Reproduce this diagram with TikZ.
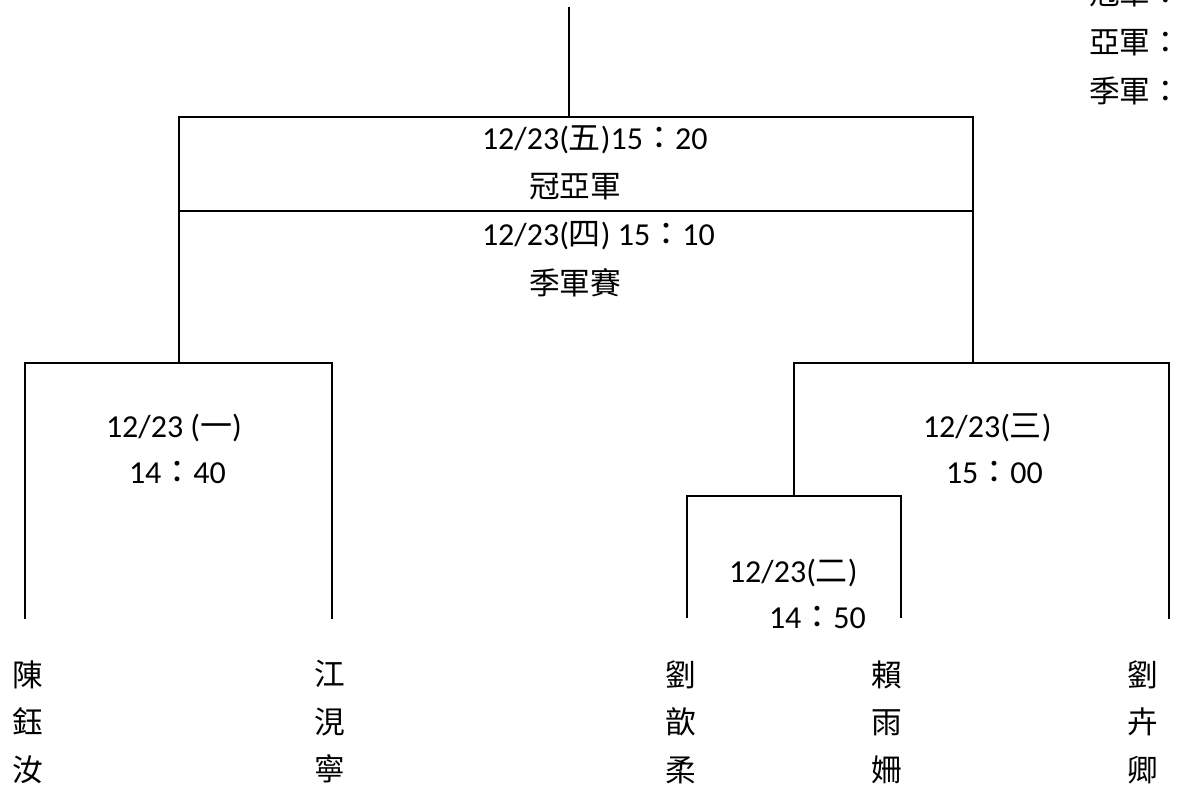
\documentclass[tikz,border=0pt]{standalone}
\usepackage{fontspec}
\setmainfont{Carlito}
\newfontfamily\zhfont{Noto Sans CJK TC}
\newcommand\zh[1]{{\zhfont #1}}
\begin{document}
\begin{tikzpicture}[x=0.75pt,y=-0.75pt,line width=1.5pt,
  every node/.style={inner sep=0pt,font=\fontsize{24}{28}\selectfont},
  lbl/.style={anchor=base west},
  namecol/.style={align=center,font=\zhfont\fontsize{23}{35.6}\selectfont},
  bracket/.style={draw=black,line width=1.5pt}]
\useasboundingbox (0,0) rectangle (1191,795);
% coordinates
\coordinate (top) at (569,7);
\coordinate (f) at (569,117);
\coordinate (fl) at (179,117);
\coordinate (fr) at (973,117);
\coordinate (ml) at (179,211);
\coordinate (mr) at (973,211);
\coordinate (sl) at (179,363);
\coordinate (sr) at (973,363);
\coordinate (a1) at (25,363);
\coordinate (a2) at (332,363);
\coordinate (a1b) at (25,619);
\coordinate (a2b) at (332,619);
\coordinate (b1) at (794,363);
\coordinate (b2) at (1169,363);
\coordinate (b1b) at (794,496);
\coordinate (b2b) at (1169,619);
\coordinate (c1) at (687,496);
\coordinate (c2) at (901,496);
\coordinate (c1b) at (687,618);
\coordinate (c2b) at (901,618);
% lines
\draw[bracket] (top) -- (f);
\draw[bracket] (sl) -- (fl) -- (fr) -- (sr);
\draw[bracket] (ml) -- (mr);
\draw[bracket] (a1b) -- (a1) -- (a2) -- (a2b);
\draw[bracket] (b2b) -- (b2) -- (b1) -- (b1b);
\draw[bracket] (c1b) -- (c1) -- (c2) -- (c2b);
% labels
\node[lbl] (t1) at (481,150) {12/23(\zh{五})15\zh{：}20};
\node[font=\zhfont\fontsize{23}{28}\selectfont] (t2) at (575,187) {冠亞軍};
\node[lbl] (t3) at (481,245) {12/23(\zh{四}) 15\zh{：}10};
\node[font=\zhfont\fontsize{23}{28}\selectfont] (t4) at (575,283) {季軍賽};
\node[lbl] (g1) at (105,437) {12/23 (\zh{一})};
\node[lbl] (g1t) at (128,483) {14\zh{：}40};
\node[lbl] (g3) at (922,437) {12/23(\zh{三})};
\node[lbl] (g3t) at (945,483) {15\zh{：}00};
\node[lbl] (g2) at (728,582) {12/23(\zh{二})};
\node[lbl] (g2t) at (768,628) {14\zh{：}50};
% names
\node[namecol] (n1) at (28,722) {陳\\鈺\\汝};
\node[namecol] (n2) at (330,722) {江\\涀\\寧};
\node[namecol] (n3) at (681,722) {劉\\歆\\柔};
\node[namecol] (n4) at (887,722) {賴\\雨\\姍};
\node[namecol] (n5) at (1143,722) {劉\\卉\\卿};
% results
\node[anchor=west,align=left,font=\zhfont\fontsize{23}{36.75}\selectfont] (res) at (1088,43) {冠軍：\\亞軍：\\季軍：};
\end{tikzpicture}
\end{document}
